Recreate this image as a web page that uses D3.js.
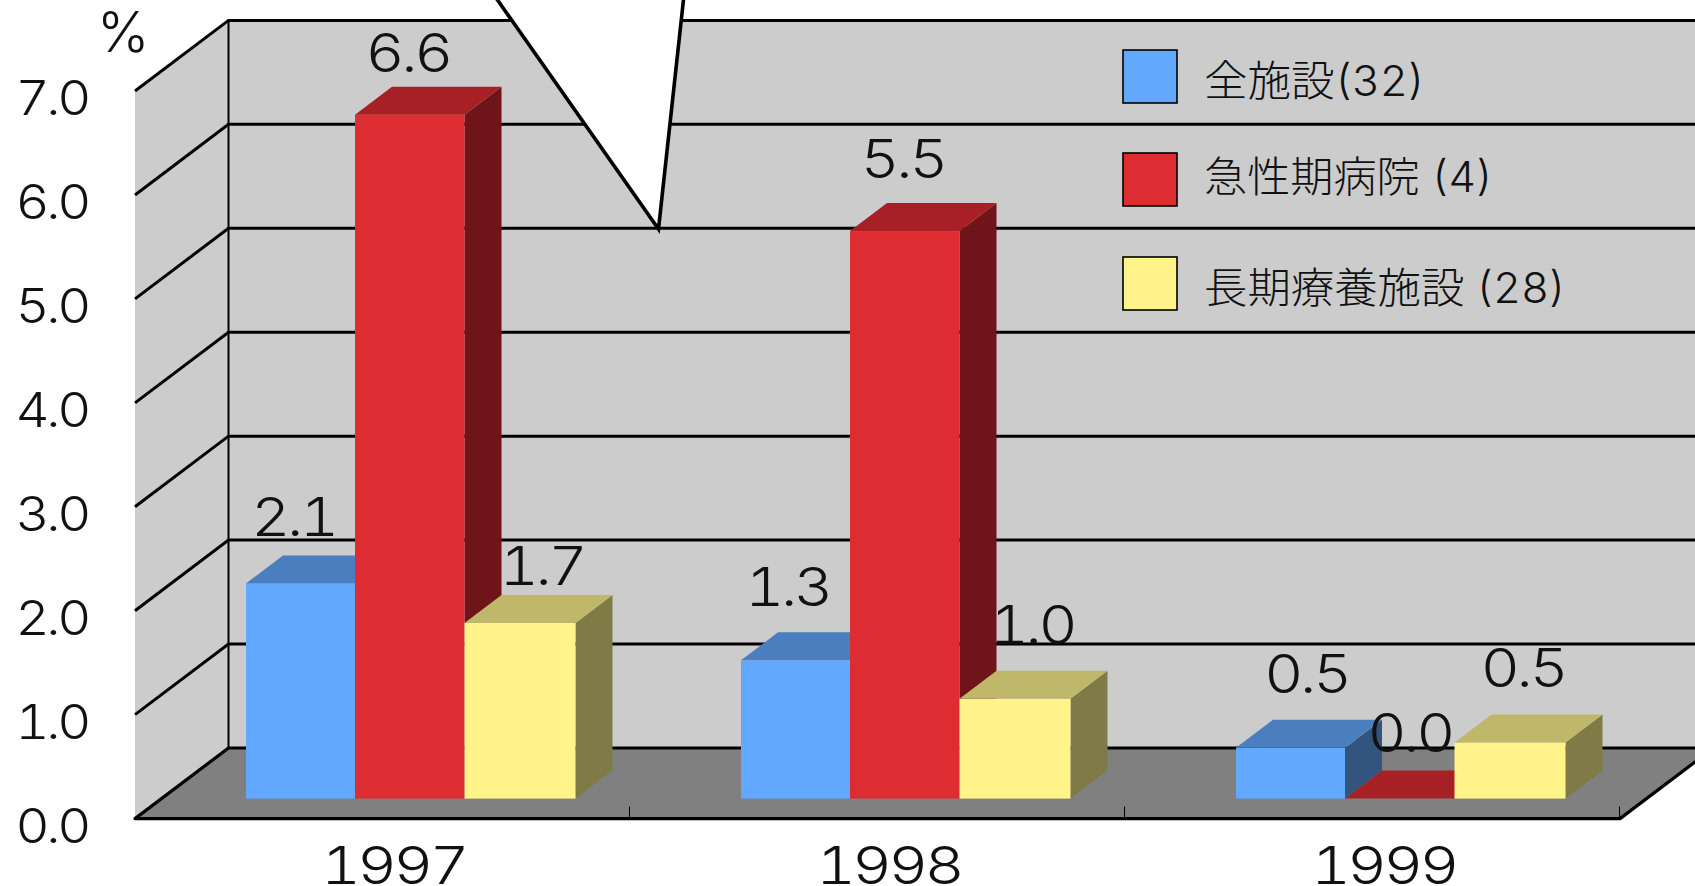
<!DOCTYPE html>
<html><head><meta charset="utf-8">
<script src="https://cdn.jsdelivr.net/npm/d3@7/dist/d3.min.js"></script>
<style>html,body{margin:0;padding:0;background:#fff;overflow:hidden}svg{display:block}
text{font-family:Inter,"Noto Sans CJK JP",sans-serif;font-weight:300;fill:#111;font-variant-numeric:tabular-nums}</style>
</head><body><svg id="c" width="1695" height="886"></svg>
<script>
const categories = ["1997","1998","1999"];
const seriesNames = ["全施設(32)","急性期病院 (4)","長期療養施設 (28)"];
const allFacilities = [2.07,1.33,0.49];
const acuteHospitals = [6.58,5.46,0.0];
const longTermCare = [1.69,0.96,0.54];
const yTicks = [0,1,2,3,4,5,6,7];

const W=1695,H=886;
const svg=d3.select("#c");
const fmt=d3.format(".1f");
const X0=135,X1=1620,Y0=818.6,Y7=91,DX=93.5,DY=70.6;
const y=d3.scaleLinear().domain([0,7]).range([Y0,Y7]);
const x=d3.scaleBand().domain(categories).range([X0,X1]);
const series=[
 {name:seriesNames[0],v:allFacilities,front:"#62a8ff",top:"#4b7ebf",side:"#325580"},
 {name:seriesNames[1],v:acuteHospitals,front:"#dd2c32",top:"#a62025",side:"#6f151a"},
 {name:seriesNames[2],v:longTermCare,front:"#fff38a",top:"#bfb76a",side:"#807a47"}];
const line=d3.line();
const poly=pts=>line(pts)+"Z";
const stretch=(sel,ratio,ls)=>sel.style("letter-spacing",ls+"px").each(function(){
  this.setAttribute("lengthAdjust","spacingAndGlyphs");
  this.setAttribute("textLength",this.getComputedTextLength()*ratio);
});

// walls
svg.append("path").attr("fill","#cccccc")
  .attr("d",poly([[X0,Y0],[X0,Y7],[X0+DX,Y7-DY],[X1+DX,Y7-DY],[X1+DX,Y0-DY],[X0+DX,Y0-DY]]));
// floor
svg.append("path").attr("fill","#808080").attr("stroke","#000").attr("stroke-width",3.2)
  .attr("stroke-linejoin","round")
  .attr("d",poly([[X0,Y0],[X0+DX,Y0-DY],[X1+DX,Y0-DY],[X1,Y0]]));
// gridlines
yTicks.slice(1).forEach(t=>{
  svg.append("path").attr("fill","none").attr("stroke","#000").attr("stroke-width",3)
    .attr("d",line([[X0,y(t)],[X0+DX,y(t)-DY],[W+5,y(t)-DY]]));
});
svg.append("line").attr("x1",X0+DX).attr("x2",X0+DX).attr("y1",Y7-DY).attr("y2",Y0-DY)
  .attr("stroke","#000").attr("stroke-width",2);
// category separators on the floor
[x("1998"),x("1999"),X1].forEach(px=>{
  svg.append("line").attr("x1",px-.5).attr("x2",px-.5).attr("y1",Y0-12).attr("y2",Y0)
   .attr("stroke","#000").attr("stroke-width",1);
});
// callout
svg.append("path").attr("fill","#fff").attr("stroke","#000").attr("stroke-width",3.6)
  .attr("d",line([[494,-5],[658.5,229],[684,-5]]));

// bars
const barEdge=[0,109,218.5,329.5],OFF=111,BASE=Y0-20,BDX=37,BDY=28;
const nudge=[[[-7,47],[-2,43],[22,38]],[[-8,54],[-2,53],[17,55]],[[16,55],[10,47],[13,55]]];
const labels=[];
series.forEach((s,si)=>{
  const g=svg.append("g");
  categories.forEach((c,ci)=>{
    const bx=x(c)+OFF+barEdge[si], r=x(c)+OFF+barEdge[si+1], h=y(0)-y(s.v[ci]), t=BASE-h;
    if(h>0){
      g.append("path").attr("fill",s.side).attr("d",poly([[r,t],[r+BDX,t-BDY],[r+BDX,BASE-BDY],[r,BASE]]));
      g.append("rect").attr("x",bx).attr("y",t).attr("width",r-bx).attr("height",h).attr("fill",s.front);
    }
    g.append("path").attr("fill",s.top).attr("d",poly([[bx,t],[bx+BDX,t-BDY],[r+BDX,t-BDY],[r,t]]));
    const n=nudge[ci][si];
    labels.push({x:(bx+r)/2+n[0],y:t-n[1],t:fmt(s.v[ci])});
  });
});
// axes
const ax=svg.append("g").attr("transform","translate(88,0)")
  .call(d3.axisLeft(y).tickValues(yTicks).tickFormat(fmt).tickSize(0).tickPadding(0));
ax.select(".domain").remove();
ax.attr("font-family",null);
ax.selectAll("text").attr("font-size",48).attr("dy",0).attr("y",23.5).attr("x",0).call(stretch,1.1,-3);
const bx=svg.append("g").attr("transform",`translate(11,${Y0})`)
  .call(d3.axisBottom(x).tickSize(0).tickPadding(0));
bx.select(".domain").remove();
bx.attr("font-family",null);
bx.selectAll("text").attr("font-size",52).attr("dy",0).attr("y",65).call(stretch,1.18,-3);

// data labels
svg.append("g").selectAll("text").data(labels).join("text")
  .attr("x",d=>d.x).attr("y",d=>d.y).attr("text-anchor","middle").attr("font-size",54).text(d=>d.t)
  .call(stretch,1.12,-3);
// unit
svg.append("text").attr("x",97).attr("y",52).attr("font-size",56).text("%");
// legend
const lgY=[50,153,257], lgB=[95.5,191.5,302.5], lgW=[221,289,362];
series.forEach((s,i)=>{
  svg.append("rect").attr("x",1123).attr("y",lgY[i]).attr("width",54).attr("height",53)
    .attr("fill",s.front).attr("stroke","#000").attr("stroke-width",1.6);
  svg.append("text").attr("x",1204).attr("y",lgB[i]).attr("font-size",42).text(s.name)
    .attr("textLength",lgW[i]).attr("lengthAdjust","spacingAndGlyphs");
});
</script></body></html>
